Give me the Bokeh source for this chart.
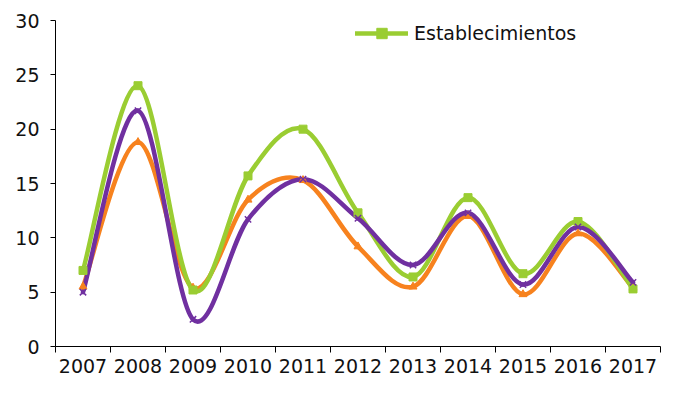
from bokeh.plotting import figure
from bokeh.models import Range1d, FixedTicker, Legend, LegendItem, PrintfTickFormatter, ColumnDataSource
from bokeh.embed import file_html
from bokeh.resources import INLINE

years = [2007, 2008, 2009, 2010, 2011, 2012, 2013, 2014, 2015, 2016, 2017]
establecimientos = [7.0, 24.0, 5.2, 15.7, 20.0, 12.3, 6.4, 13.7, 6.7, 11.5, 5.3]
serie_naranja = [5.5, 18.8, 5.4, 13.5, 15.3, 9.2, 5.5, 12.0, 4.8, 10.4, 5.4]
serie_morada = [5.0, 21.7, 2.5, 11.7, 15.4, 11.8, 7.5, 12.3, 5.7, 11.0, 5.9]
y_ticks = [0, 5, 10, 15, 20, 25, 30]

GREEN = "#9ACD32"
ORANGE = "#F7821E"
PURPLE = "#7030A0"
FONT = "DejaVu Sans"
FS = "19px"


def bezier_source(xs, ys):
    # Catmull-Rom style smoothing (as in spreadsheet "smoothed line")
    n = len(xs)
    d = dict(x0=[], y0=[], x1=[], y1=[], cx0=[], cy0=[], cx1=[], cy1=[])
    for i in range(n - 1):
        p0 = i - 1 if i > 0 else i
        p3 = i + 2 if i + 2 < n else i + 1
        d["x0"].append(xs[i]); d["y0"].append(ys[i])
        d["x1"].append(xs[i + 1]); d["y1"].append(ys[i + 1])
        d["cx0"].append(xs[i] + (xs[i + 1] - xs[p0]) / 6.0)
        d["cy0"].append(ys[i] + (ys[i + 1] - ys[p0]) / 6.0)
        d["cx1"].append(xs[i + 1] - (xs[p3] - xs[i]) / 6.0)
        d["cy1"].append(ys[i + 1] - (ys[p3] - ys[i]) / 6.0)
    return ColumnDataSource(d)


p = figure(frame_width=605, frame_height=326, output_backend="svg", toolbar_location=None,
           x_range=Range1d(years[0] - 0.5, years[-1] + 0.5), y_range=Range1d(0, 30),
           min_border_left=55, min_border_right=2, min_border_top=20, min_border_bottom=0)
p.outline_line_color = None
p.xgrid.visible = False
p.ygrid.visible = False
p.background_fill_color = "white"
p.border_fill_color = "white"

renderers = {}
for name, ys, col in [("o", serie_naranja, ORANGE), ("g", establecimientos, GREEN), ("m", serie_morada, PURPLE)]:
    src = bezier_source(years, ys)
    renderers[name] = p.bezier(x0="x0", y0="y0", x1="x1", y1="y1", cx0="cx0", cy0="cy0",
                               cx1="cx1", cy1="cy1", source=src, line_color=col,
                               line_width=4.5, line_cap="round")

p.scatter(years, serie_naranja, marker="triangle", size=8, color=ORANGE)
g_sc = p.scatter(years, establecimientos, marker="square", size=8, color=GREEN)
p.scatter(years, serie_morada, marker="x", size=9, line_color=PURPLE, line_width=1.5)

legend = Legend(items=[LegendItem(label="Establecimientos", renderers=[renderers["g"], g_sc])],
                location=(300, 300), glyph_width=53, glyph_height=26, label_height=26,
                label_standoff=6, padding=0, margin=0, spacing=0, border_line_alpha=0,
                background_fill_alpha=0, label_text_font=FONT, label_text_font_size=FS,
                label_text_color="#111111")
p.add_layout(legend, "center")

xa = p.xaxis[0]
xa.ticker = FixedTicker(ticks=years, minor_ticks=[y - 0.5 for y in years] + [years[-1] + 0.5])
xa.formatter = PrintfTickFormatter(format="%d")
xa.major_tick_out = 0
xa.major_tick_in = 0
xa.minor_tick_out = 6
xa.minor_tick_in = 0
xa.minor_tick_line_color = "black"
xa.axis_line_color = "black"
xa.major_label_standoff = 6
xa.major_label_text_font = FONT
xa.major_label_text_font_size = FS
xa.major_label_text_color = "#111111"

ya = p.yaxis[0]
ya.ticker = FixedTicker(ticks=y_ticks)
ya.major_tick_out = 5
ya.major_tick_in = 0
ya.minor_tick_out = 0
ya.minor_tick_in = 0
ya.axis_line_color = "black"
ya.major_tick_line_color = "black"
ya.major_label_standoff = 11
ya.major_label_text_font = FONT
ya.major_label_text_font_size = FS
ya.major_label_text_color = "#111111"

open("out.html", "w").write(file_html(p, INLINE))
